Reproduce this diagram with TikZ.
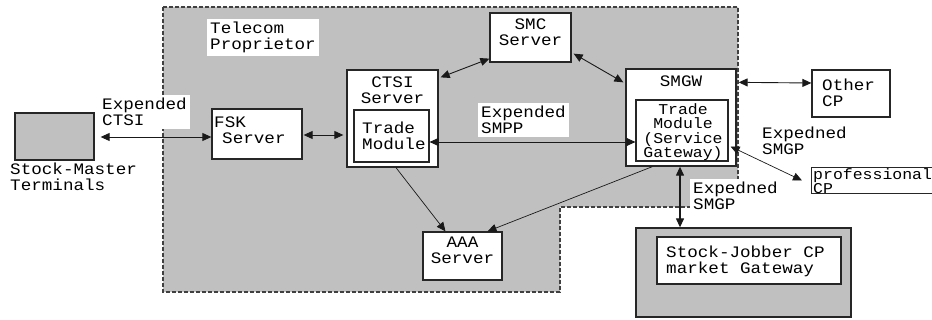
\documentclass[tikz,border=0pt]{standalone}
\usepackage{fontspec}
\setmonofont[FakeStretch=1.1]{Liberation Mono}
\usetikzlibrary{arrows.meta,calc}

\definecolor{panel}{RGB}{192,192,192}

\tikzset{
  box/.style={draw=black!85, line width=1.3pt, fill=white, inner sep=0pt},
  txt/.style={font=\ttfamily\fontsize{16}{16}\selectfont, inner sep=0pt},
  tag/.style={txt, fill=white, inner sep=3pt, anchor=north west, align=left},
  link/.style={line width=0.9pt, black!90, {Triangle[length=9pt,width=8pt]}-{Triangle[length=9pt,width=8pt]}},
  feed/.style={line width=0.7pt, black!90, -{Triangle[length=9pt,width=8pt]}}
}

\begin{document}
\begin{tikzpicture}[x=1pt, y=-1pt]
    \useasboundingbox (0,0) rectangle (932,320);

    % Operator domain (grey, dashed outline)
    \fill[panel] (163,7) -- (738,7) -- (738,207) -- (560,207) -- (560,292) -- (163,292) -- cycle;
    \draw[black!75, line width=1.4pt, dash pattern=on 4pt off 2pt]
        (163,7) -- (738,7) -- (738,207) -- (560,207) -- (560,292) -- (163,292) -- cycle;
    \node[tag] (owner) at (207,19) {Telecom\\Proprietor};

    % Terminals on the left
    \node[box, fill=panel, minimum width=79, minimum height=47] (smt) at (54.5,136.5) {};
    \node[txt, anchor=north west, align=left] (smtlbl) at (10,163) {Stock-Master\\Terminals};
    \node[tag] (ctsilbl) at (99,95) {Expended\\CTSI};

    % Servers inside the domain
    \node[box, minimum width=90, minimum height=50] (fsk) at (257,134) {};
    \node[txt, anchor=north west, align=left] (fsklbl) at (214,117) {FSK\\\hspace*{0.5em}Server};

    \node[box, minimum width=91, minimum height=97] (ctsi) at (392.5,118.5) {};
    \node[txt, anchor=north, align=center] (ctsilbl2) at (392.5,77) {CTSI\\Server};
    \node[box, line width=1.1pt, minimum width=75, minimum height=52] (ctsitm) at (391.5,136) {};
    \node[txt, anchor=north west, align=left] (ctsitmlbl) at (362,122) {Trade\\Module};

    \node[box, minimum width=81, minimum height=49] (smc) at (530.5,37.5) {};
    \node[txt, anchor=north, align=center] (smclbl) at (530.5,19) {SMC\\Server};

    \node[box, minimum width=110, minimum height=97] (smgw) at (681,117.5) {};
    \node[txt, anchor=north, align=center] (smgwlbl) at (681,76) {SMGW};
    \node[box, line width=1.1pt, minimum width=92, minimum height=61] (smgwtm) at (682,130.5) {};
    \node[txt, anchor=north, align=center, font=\ttfamily\fontsize{15}{14.5}\selectfont] (smgwtmlbl) at (683,103) {Trade\\Module\\(Service\\Gateway)};

    \node[tag] (smpplbl) at (478,103) {Expended\\SMPP};

    \node[box, minimum width=79, minimum height=48] (aaa) at (462.5,256) {};
    \node[txt, anchor=north, align=center] (aaalbl) at (462.5,237) {AAA\\Server};

    % Partners outside the domain
    \node[box, minimum width=78, minimum height=47] (other) at (851,93.5) {};
    \node[txt, anchor=north west, align=left] (otherlbl) at (822,79) {Other\\CP};
    \node[txt, anchor=north west, align=left] (smgplbl) at (762,127) {Expedned\\SMGP};

    \node[box, line width=1pt, anchor=north west, minimum width=160, minimum height=26] (prof) at (811,167) {};
    \node[txt, anchor=north west, align=left, font=\ttfamily\fontsize{15}{13}\selectfont] (proflbl) at (813,168) {professional\\CP};

    \node[box, fill=panel, minimum width=215, minimum height=89] (sj) at (743.5,272.5) {};
    \node[box, line width=1.1pt, minimum width=184, minimum height=47] (sjgw) at (749,260.5) {};
    \node[txt, anchor=north west, align=left] (sjlbl) at (666,246) {Stock-Jobber CP\\market Gateway};
    \node[tag] (smgplbl2) at (690,179) {Expedned\\SMGP};

    % Connections
    \draw[link] ($(smt.east)+(6,0.5)$) -- ($(fsk.west)+(0,3)$);
    \draw[link] ($(fsk.east)+(1,1)$) -- ($(ctsi.west)+(-3,16.5)$);
    \draw[link] ($(ctsitm.east)+(0,6)$) -- ($(smgwtm.west)+(0,11.5)$);
    \draw[link] ($(ctsi.north east)+(2,8)$) -- ($(smc.south west)+(0,-4)$);
    \draw[link] ($(smc.south east)+(2,-9)$) -- ($(smgw.north west)+(-2,14)$);
    \draw[link] ($(smgw.north east)+(2,14)$) -- ($(other.west)+(0,-10.5)$);
    \draw[link, line width=0.7pt] ($(smgwtm.east)+(2,16)$) -- ($(prof.west)+(-9,0)$);
    \draw[link, line width=1.2pt] ($(smgw.south)+(-1,0)$) -- ($(sj.north)+(-63.5,0)$);
    \draw[feed] ($(ctsi.south)+(3.5,0)$) -- ($(aaa.north)+(-17,0)$);
    \draw[feed] ($(smgw.south west)+(27,0)$) -- ($(aaa.north)+(25,0)$);
\end{tikzpicture}
\end{document}
